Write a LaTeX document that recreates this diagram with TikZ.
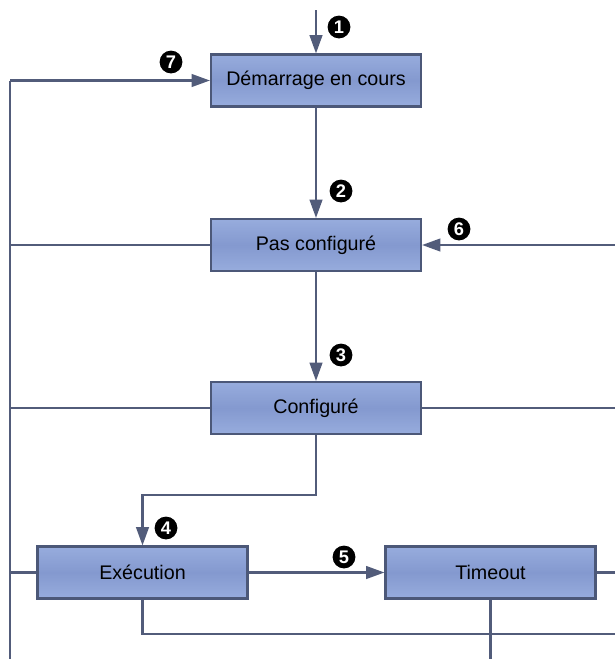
\documentclass[tikz,border=0pt]{standalone}
\usepackage{fontspec}
\setmainfont{Liberation Sans}
\usetikzlibrary{arrows.meta}
\definecolor{ligne}{HTML}{525C7A}
\definecolor{cadre}{HTML}{4C5878}
\definecolor{etathaut}{HTML}{97ACDD}
\definecolor{etatmil}{HTML}{8499CF}

\begin{document}
\begin{tikzpicture}[x=0.025cm, y=-0.025cm,
    etat/.style={draw=cadre, line width=1.5pt, top color=etathaut, bottom color=etathaut,
        middle color=etatmil, minimum width=5.25cm, minimum height=1.3cm, inner sep=0pt,
        font=\fontsize{14}{17}\selectfont},
    num/.style={circle, fill=black, text=white, inner sep=0pt, minimum size=0.57cm,
        font=\fontsize{13}{15}\selectfont\bfseries},
    fil/.style={ligne, line width=1.5pt},
    fleche/.style={fil, -{Triangle[length=13pt, width=9pt]}}]
    \useasboundingbox (0, 0) rectangle (615, 659);

    % States
    \node[etat] (dem) at (316, 80.5) {Démarrage en cours};
    \node[etat] (pas) at (316, 245) {Pas configuré};
    \node[etat] (conf) at (316, 408) {Configuré};
    \node[etat] (exe) at (142.5, 572.5) {Exécution};
    \node[etat] (time) at (490.5, 572.5) {Timeout};

    % Free ends
    \coordinate (entree) at (316, 10);
    \coordinate (ghaut) at (10, 80.5);
    \coordinate (gbas) at (10, 659);
    \coordinate (droite) at (615, 0);
    \coordinate (bas) at (615, 634);

    % Main path
    \draw[fleche] (entree) -- (dem);
    \draw[fleche] (dem) -- (pas);
    \draw[fleche] (pas) -- (conf);
    \draw[fleche] (conf.south) -- ++(0, 60) -| (exe.north);
    \draw[fleche] (exe) -- (time);

    % Left return line
    \draw[fil] (gbas) -- (ghaut);
    \draw[fleche] (ghaut) -- (dem);
    \draw[fil] (pas.west) -- (pas.west -| ghaut);
    \draw[fil] (conf.west) -- (conf.west -| ghaut);
    \draw[fil] (exe.west) -- (exe.west -| ghaut);

    % Right side
    \draw[fleche] (pas.east -| droite) -- (pas.east);
    \draw[fil] (conf.east) -- (conf.east -| droite);
    \draw[fil] (time.east) -- (time.east -| droite);
    \draw[fil] (exe.south) |- (bas);
    \draw[fil] (time.south) -- (time.south |- gbas);

    % Step numbers
    \node[num] (n1) at (339, 27) {1};
    \node[num] (n2) at (341, 191) {2};
    \node[num] (n3) at (341, 355) {3};
    \node[num] (n4) at (166, 528) {4};
    \node[num] (n5) at (344, 557) {5};
    \node[num] (n6) at (459, 229) {6};
    \node[num] (n7) at (171, 62) {7};
\end{tikzpicture}
\end{document}
